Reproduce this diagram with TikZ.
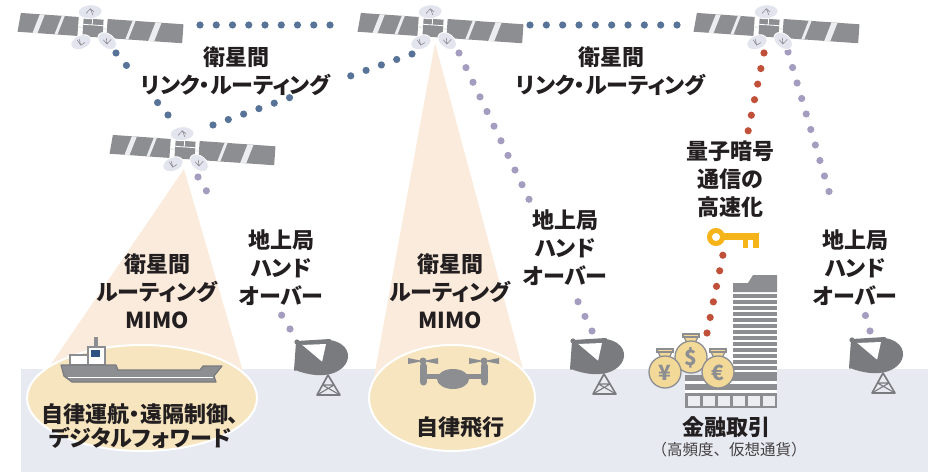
\documentclass[tikz,border=0pt]{standalone}
\usepackage{fontspec}
\setmainfont{Noto Sans CJK JP}[RawFeature=+palt]
\newfontfamily\plainjp{Noto Sans CJK JP}
\usetikzlibrary{calc}

\definecolor{dotblue}{HTML}{587398}
\definecolor{dotpurple}{HTML}{A59DC0}
\definecolor{dotred}{HTML}{C0503A}
\definecolor{beam}{HTML}{FBEBDC}
\definecolor{spot}{HTML}{F6E5BF}
\definecolor{ground}{HTML}{E8EAF2}
\definecolor{icon}{HTML}{8D8E91}
\definecolor{icondark}{HTML}{7A7B7F}
\definecolor{panellight}{HTML}{ECEDEE}
\definecolor{dishface}{HTML}{E3E5EE}
\definecolor{gold}{HTML}{F2D998}
\definecolor{keygold}{HTML}{F4B41A}
\definecolor{ink}{HTML}{231F20}
\definecolor{window}{HTML}{2E5283}

\tikzset{
  lbl/.style={font=\bfseries\fontsize{22}{28}\selectfont, text=ink, align=center, inner sep=0pt},
  sublbl/.style={font=\plainjp\fontsize{15.5}{18}\selectfont, text=ink!85, inner sep=0pt},
  dotb/.style={fill=dotblue},
  dotp/.style={fill=dotpurple},
  dotr/.style={fill=dotred},
  % communication satellite, body centred on the origin
  satellite/.pic={
    % solar panels
    \fill[icon] (-73,-10) -- (-15,-10) -- (-15,9) -- (-75,9) -- cycle;
    \fill[panellight] (-60,9) -- (-55,9) -- (-49,-10) -- (-54,-10) -- cycle;
    \fill[panellight] (-38,9) -- (-35,9) -- (-29,-10) -- (-32,-10) -- cycle;
    \fill[icon] (14,-10) rectangle (90,9);
    \fill[panellight] (33,9) -- (36,9) -- (42,-10) -- (39,-10) -- cycle;
    \fill[panellight] (56,9) -- (62,9) -- (68,-10) -- (62,-10) -- cycle;
    \draw[panellight, line width=1.6] (-15,0) -- (-10,0) (10,0) -- (14,0);
    % body
    \fill[icon] (-10,-9) rectangle (10,9);
    \draw[white, line width=0.8] (-10,-3) -- (10,-3) (-1,-9) -- (-1,-3);
    % antennas
    \filldraw[fill=dishface, draw=white, line width=0.8, rotate around={8:(-4,-16)}]
      (-4,-16) ellipse [x radius=12pt, y radius=7pt];
    \draw[icon, line width=0.6] (-8,-14) -- (-4,-19) -- (0,-16) (-4,-19) -- (-1,-13);
    \filldraw[fill=dishface, draw=white, line width=0.8, rotate around={25:(-11,15)}]
      (-11,15) ellipse [x radius=10.5pt, y radius=7pt];
    \draw[icon, line width=0.6] (-15,13) -- (-11,18) -- (-7,15) (-11,18) -- (-13,12);
    \filldraw[fill=dishface, draw=white, line width=0.8, rotate around={-35:(15,12)}]
      (15,12) ellipse [x radius=10.5pt, y radius=7pt];
    \draw[icon, line width=0.6] (11,11) -- (15,15) -- (19,10) (15,15) -- (14,9);
  },
  % ground station, feed point on the origin
  groundstation/.pic={
    \draw[icondark, line width=1.6, line join=round] (31,33) -- (20,53) -- (43,53) -- cycle;
    \draw[icondark, line width=1.1] (25.5,43) -- (37,43) (25.5,43) -- (43,53) (37,43) -- (20,53)
      (31,33) -- (37,43) (31,33) -- (25.5,43);
    \fill[icondark] (0,0) -- (33,-2) .. controls (68,4) and (50,48) .. (-2,28) -- cycle;
    \fill[white] (4,3) -- (29,2) -- (25,20) -- cycle;
    \draw[icondark, line width=2, line cap=round] (0,0) -- (33,-2) (0,0) -- (-2,28) (0,0) -- (26,22);
    \fill[icondark] (0,0) circle[radius=2.6pt];
  },
  moneybag/.pic={
    \filldraw[fill=gold, draw=icon, line width=1.3, line join=round] (-4,-14) -- (-7,-20) -- (7,-20) -- (4,-14) -- cycle;
    \filldraw[fill=gold, draw=icon, line width=1.3] (0,0) circle[radius=16pt];
    \filldraw[fill=gold, draw=icon, line width=1.3] (-8,-23) rectangle (8,-20);
  }
}

\begin{document}
\begin{tikzpicture}[x=1pt, y=-1pt]
\useasboundingbox (0,0) rectangle (928,473);

% ground
\fill[ground] (21,369) rectangle (928,472);

% beams and service areas
\fill[beam] (184,169) -- (45,373) -- (246,382) -- cycle;
\fill[beam] (435,43) -- (372,388) -- (527,384) -- cycle;
\filldraw[fill=spot, draw=white, line width=2] (142,398) ellipse [x radius=115pt, y radius=53pt];
\filldraw[fill=spot, draw=white, line width=2] (452,398) ellipse [x radius=83pt, y radius=53pt];

% ship
\filldraw[fill=white, draw=icon, line width=1.5] (70,355) rectangle (90,365);
\filldraw[fill=white, draw=icon, line width=1.5] (88,347) rectangle (105,365);
\fill[icon] (94,337) rectangle (98,347);
\fill[window] (91,350) rectangle (100,357);
\filldraw[fill=icon, draw=icondark, line width=1.2, line join=round]
  (61,365) -- (116,365) -- (118,370) -- (200,370) -- (203,366) -- (222,366)
  -- (214,376) -- (216,382) -- (72,382) -- (64,376) -- cycle;
\draw[white, line width=1] (68,377) -- (213,377);

% drone
\draw[icon, line width=5] (423,376) -- (484,376);
\draw[icon, line width=7, line cap=round] (423,366) -- (423,382) (484,366) -- (484,382);
\fill[icon] (453,379) ellipse [x radius=16pt, y radius=10pt];
\fill[icon] (408,358) -- (423,361) -- (408,364) -- cycle;
\fill[icon] (438,358) -- (423,361) -- (438,364) -- cycle;
\fill[icon] (469,358) -- (484,361) -- (469,364) -- cycle;
\fill[icon] (499,358) -- (484,361) -- (499,364) -- cycle;
\fill[icon] (423,361) circle[radius=3.5pt] (484,361) circle[radius=3.5pt];

% ground stations
\pic (gs1) at (297,342) {groundstation};
\pic (gs2) at (573,341) {groundstation};
\pic (gs3) at (852,340) {groundstation};

% financial district tower
\fill[white] (733,275) rectangle (777,408);
\fill[icon] (733,283) -- (748,283) -- (753,275) -- (777,275) -- (777,292) -- (733,292) -- cycle;
\foreach \k in {0,...,13} \fill[icon] (733,{294+6*\k}) rectangle (777,{297.5+6*\k});
\fill[white] (685,375) rectangle (777,408);
\fill[icon] (685,375) rectangle (777,381);
\fill[icon] (685,384) rectangle (777,390);
\fill[icon] (685,393) rectangle (777,408);
\foreach \k in {0,...,5} \fill[panellight] ({688+15*\k},396) rectangle ({700+15*\k},406);

% money bags
\pic at (691,357) {moneybag};
\pic at (665,372) {moneybag};
\pic at (718,372) {moneybag};
\node[font=\bfseries\fontsize{21}{21}\selectfont, text=icon] (yen) at (665,373) {¥};
\node[font=\bfseries\fontsize{21}{21}\selectfont, text=icon] (usd) at (691,358) {\$};
\node[font=\bfseries\fontsize{21}{21}\selectfont, text=icon] (eur) at (718,373) {€};

% key
\draw[keygold, line width=5] (716,237) circle[radius=6.5pt];
\fill[keygold] (722,233) rectangle (759,240);
\fill[keygold] (743,240) rectangle (748,247.5);
\fill[keygold] (753,240) rectangle (759,247.5);

% link end points
\coordinate (s1e) at (200,25);   \coordinate (s3w) at (330,25);
\coordinate (s3e) at (530,25);   \coordinate (s4w) at (677,25);
\coordinate (s1s) at (116,53);   \coordinate (s2n) at (168,115);
\coordinate (s2e) at (213,125);  \coordinate (s3sw) at (412,54);
\coordinate (s2s) at (198,177);  \coordinate (gs1f) at (290,329);
\coordinate (s3s) at (459,53);   \coordinate (gs2f) at (592,331);
\coordinate (s4s) at (788,52);   \coordinate (gs3f) at (870,331);
\coordinate (s4q) at (764,53);   \coordinate (bags) at (707,333);

% inter-satellite links
\foreach \i in {0,...,8} \fill[dotb] ($(s1e)!\i/8!(s3w)$) circle[radius=3.6pt];
\foreach \i in {0,...,9} \fill[dotb] ($(s3e)!\i/9!(s4w)$) circle[radius=3.6pt];
\foreach \i in {0,1,4,5} \fill[dotb] ($(s1s)!\i/5!(s2n)$) circle[radius=3.6pt];
\foreach \i in {0,...,5,9,10,...,13} \fill[dotb] ($(s2e)!\i/13!(s3sw)$) circle[radius=3.6pt];
% ground handover links
\foreach \i in {0,1,10,11} \fill[dotp] ($(s2s)!\i/11!(gs1f)$) circle[radius=3.6pt];
\foreach \i in {0,...,10,17,18,19} \fill[dotp] ($(s3s)!\i/19!(gs2f)$) circle[radius=3.6pt];
\foreach \i in {0,...,9,17,18} \fill[dotp] ($(s4s)!\i/18!(gs3f)$) circle[radius=3.6pt];
% quantum key link
\foreach \i in {0,...,5,13,14,...,18} \fill[dotr] ($(s4q)!\i/18!(bags)$) circle[radius=3.6pt];

% satellites
\pic[rotate=-4] (sat1) at (93,28) {satellite};
\pic[rotate=-4] (sat2) at (185,150) {satellite};
\pic[rotate=-4] (sat3) at (433,28) {satellite};
\pic[rotate=-4] (sat4) at (769,28) {satellite};

% labels
\node[lbl] (isl1) at (236,71) {衛星間\\リンク・ルーティング};
\node[lbl] (isl2) at (611,71) {衛星間\\リンク・ルーティング};
\node[lbl] (mimo1) at (157,291) {衛星間\\ルーティング\\MIMO};
\node[lbl] (mimo2) at (450,291) {衛星間\\ルーティング\\MIMO};
\node[lbl] (ho1) at (281,268) {地上局\\ハンド\\オーバー};
\node[lbl] (ho2) at (565,248) {地上局\\ハンド\\オーバー};
\node[lbl] (ho3) at (855,268) {地上局\\ハンド\\オーバー};
\node[lbl] (qkd) at (730,179) {量子暗号\\通信の\\高速化};
\node[lbl, font=\bfseries\fontsize{22}{24}\selectfont] (ship) at (140,426) {自律運航・遠隔制御、\\デジタルフォワード};
\node[lbl] (uav) at (460,427) {自律飛行};
\node[lbl] (fin) at (726,427) {金融取引};
\node[sublbl] (finsub) at (729,450) {（高頻度、仮想通貨）};
\end{tikzpicture}
\end{document}
